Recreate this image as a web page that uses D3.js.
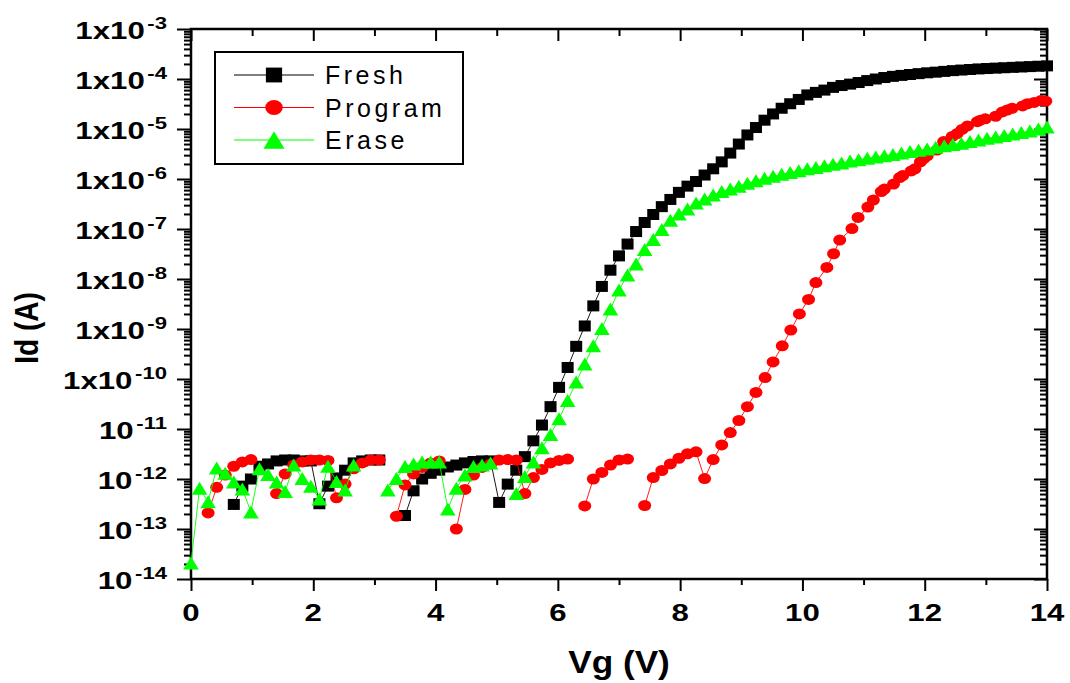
<!DOCTYPE html>
<html>
<head>
<meta charset="utf-8">
<script src="https://cdn.jsdelivr.net/npm/d3@7"></script>
<style>
  body { margin: 0; background: #fff; }
  text { font-family: "Liberation Sans", Arial, sans-serif; fill: #000; }
</style>
</head>
<body>
<script>
// Gate voltage sweep (V) used by Fresh and Erase
var vg = [0, 0.14, 0.28, 0.42, 0.56, 0.70, 0.84, 0.98, 1.12, 1.26, 1.40, 1.54, 1.68, 1.82, 1.96, 2.10, 2.24, 2.38, 2.52, 2.66,
    2.80, 2.94, 3.08, 3.22, 3.36, 3.50, 3.64, 3.78, 3.92, 4.06, 4.20, 4.34, 4.48, 4.62, 4.76, 4.90, 5.04, 5.18, 5.32, 5.46,
    5.60, 5.74, 5.88, 6.02, 6.16, 6.30, 6.44, 6.58, 6.72, 6.86, 7.00, 7.14, 7.28, 7.42, 7.56, 7.70, 7.84, 7.98, 8.12, 8.26,
    8.40, 8.54, 8.68, 8.82, 8.96, 9.10, 9.24, 9.38, 9.52, 9.66, 9.80, 9.94, 10.08, 10.22, 10.36, 10.50, 10.64, 10.78, 10.92, 11.06,
    11.20, 11.34, 11.48, 11.62, 11.76, 11.90, 12.04, 12.18, 12.32, 12.46, 12.60, 12.74, 12.88, 13.02, 13.16, 13.30, 13.44, 13.58, 13.72, 13.86,
    14.00];

// Drain current (A), null = point not plotted
var idFresh = [null, null, null, null, null, 3.1e-13, 7.2e-13, 1.0e-12, 1.8e-12, 2.0e-12,
    2.3e-12, 2.4e-12, 2.4e-12, 2.3e-12, 2.3e-12, 3.2e-13, 7.2e-13, 1.05e-12, 1.5e-12, 2.1e-12,
    2.3e-12, 2.4e-12, 2.4e-12, null, null, 1.86e-13, 5.8e-13, 1.0e-12, 1.3e-12, 1.5e-12,
    1.74e-12, 1.9e-12, 2.1e-12, 2.24e-12, 2.3e-12, 2.3e-12, 3.4e-13, 7.9e-13, 1.5e-12, 2.8e-12,
    5.8e-12, 1.2e-11, 2.8e-11, 6.8e-11, 1.7e-10, 4.5e-10, 1.15e-9, 2.9e-9, 7.1e-9, 1.5e-8,
    2.9e-8, 5.0e-8, 8.9e-8, 1.35e-7, 1.95e-7, 2.8e-7, 3.9e-7, 5.4e-7, 7.2e-7, 8.9e-7,
    1.2e-6, 1.6e-6, 2.2e-6, 3.3e-6, 5.0e-6, 7.6e-6, 1.07e-5, 1.5e-5, 2.0e-5, 2.6e-5,
    3.2e-5, 3.9e-5, 4.8e-5, 5.4e-5, 6.0e-5, 6.8e-5, 7.4e-5, 7.9e-5, 8.5e-5, 9.3e-5,
    1.0e-4, 1.07e-4, 1.13e-4, 1.18e-4, 1.23e-4, 1.28e-4, 1.33e-4, 1.37e-4, 1.42e-4, 1.47e-4,
    1.51e-4, 1.55e-4, 1.59e-4, 1.62e-4, 1.65e-4, 1.68e-4, 1.71e-4, 1.74e-4, 1.77e-4, 1.80e-4,
    1.83e-4];

var idErase = [2.1e-14, 6.5e-13, 3.5e-13, 1.66e-12, 1.3e-12, 8.7e-13, 6.3e-13, 2.2e-13, 1.6e-12, 1.23e-12,
    8.7e-13, 5.6e-13, 1.9e-12, 1.02e-12, 7.2e-13, 4.0e-13, 1.8e-12, 8.9e-13, 6.0e-13, 1.9e-12,
    null, null, null, 6.0e-13, 1.02e-12, 1.78e-12, 2.0e-12, 2.2e-12, 2.2e-12, 2.2e-12,
    2.5e-13, 6.5e-13, 1.2e-12, 1.78e-12, 1.9e-12, 2.1e-12, null, null, 5.1e-13, 1.12e-12,
    2.2e-12, 4.2e-12, 7.8e-12, 1.6e-11, 3.7e-11, 8.7e-11, 2.0e-10, 4.6e-10, 1.02e-9, 2.5e-9,
    6.0e-9, 1.2e-8, 2.0e-8, 3.9e-8, 6.2e-8, 9.8e-8, 1.5e-7, 2.0e-7, 2.5e-7, 3.3e-7,
    4.0e-7, 4.8e-7, 5.6e-7, 6.3e-7, 7.2e-7, 8.2e-7, 9.2e-7, 1.03e-6, 1.13e-6, 1.24e-6,
    1.35e-6, 1.47e-6, 1.6e-6, 1.7e-6, 1.85e-6, 1.98e-6, 2.1e-6, 2.28e-6, 2.44e-6, 2.6e-6,
    2.76e-6, 2.92e-6, 3.1e-6, 3.3e-6, 3.55e-6, 3.75e-6, 4.0e-6, 4.3e-6, 4.6e-6, 4.9e-6,
    5.2e-6, 5.6e-6, 6.0e-6, 6.5e-6, 6.9e-6, 7.4e-6, 7.9e-6, 8.5e-6, 9.1e-6, 1.0e-5,
    1.1e-5];

// Program has its own sweep points
var vgProgram = [0.28, 0.42, 0.56, 0.70, 0.84, 0.98, 1.12, 1.26, 1.40, 1.54, 1.68, 1.82, 1.96, 2.10, 2.24, 2.38, 2.52, 2.66,
    2.80, 2.94, 3.08, 3.22, 3.36, 3.50, 3.64, 3.78, 3.92, 4.06, 4.20, 4.34, 4.48, 4.62, 4.76, 4.90, 5.04, 5.18, 5.32, 5.46,
    5.60, 5.74, 5.88, 6.02, 6.16, 6.30, 6.44, 6.58, 6.72, 6.86, 7.00, 7.14, 7.28, 7.42, 7.56, 7.70, 7.84, 7.98, 8.12, 8.26,
    8.40, 8.54, 8.68, 8.82, 8.96, 9.10, 9.24, 9.39, 9.52, 9.67, 9.81, 9.95, 10.10, 10.22, 10.40, 10.51, 10.61, 10.81, 10.91,
    11.07, 11.16, 11.29, 11.34, 11.49, 11.59, 11.64, 11.78, 11.84, 11.93, 11.99, 12.04, 12.20, 12.31, 12.45, 12.53, 12.61,
    12.70, 12.86, 12.91, 12.99, 13.16, 13.27, 13.35, 13.43, 13.60, 13.68, 13.79, 13.90, 13.98];

var idProgram = [2.1e-13, 6.8e-13, 1.2e-12, 1.8e-12, 2.2e-12, 2.45e-12, null, null, 5.1e-13, 1.26e-12, 1.9e-12, 2.2e-12, 2.4e-12, 2.4e-12, 2.35e-12, 4.2e-13, 7.9e-13, 1.6e-12,
    2.1e-12, 2.4e-12, 2.4e-12, null, 1.8e-13, 7.6e-13, 1.26e-12, 1.7e-12, 2.1e-12, 2.3e-12, null, 1.0e-13, 6.2e-13, 1.2e-12, 1.7e-12, 2.0e-12, 2.4e-12, 2.45e-12, 2.4e-12, 5.1e-13,
    1.07e-12, 1.55e-12, 2.1e-12, 2.35e-12, 2.5e-12, null, 2.9e-13, 1.0e-12, 1.35e-12, 1.9e-12, 2.4e-12, 2.5e-12, null, 2.95e-13, 1.07e-12, 1.48e-12, 2.0e-12, 2.6e-12, 3.2e-12, 3.5e-12,
    1.02e-12, 2.45e-12, 4.8e-12, 8.5e-12, 1.48e-11, 2.8e-11, 5.4e-11, 1.07e-10, 2.2e-10, 4.6e-10, 9.5e-10, 2.0e-9, 3.9e-9, 8.5e-9, 1.7e-8, 3.2e-8, 6.0e-8, 1.02e-7, 1.7e-7,
    2.75e-7, 3.8e-7, 5.6e-7, 6.3e-7, 7.9e-7, 1.07e-6, 1.17e-6, 1.45e-6, 1.6e-6, 2.2e-6, 2.6e-6, 2.9e-6, 3.8e-6, 5.6e-6, 7.1e-6, 8.1e-6, 9.8e-6,
    1.15e-5, 1.4e-5, 1.5e-5, 1.6e-5, 1.8e-5, 2.2e-5, 2.4e-5, 2.6e-5, 2.9e-5, 3.2e-5, 3.4e-5, 3.7e-5, 3.6e-5];

var names = ["Fresh", "Program", "Erase"];
var colors = ["#000000", "#ff0000", "#00ff00"];

// Axis ticks and labels
var xMajor = [0, 2, 4, 6, 8, 10, 12, 14];
var xMinor = [1, 3, 5, 7, 9, 11, 13];
var yExp = [-3, -4, -5, -6, -7, -8, -9, -10, -11, -12, -13, -14];
var yBase = ["1x10", "1x10", "1x10", "1x10", "1x10", "1x10", "1x10", "1x10", "10", "10", "10", "10"];

// Set the dimensions and margins of the graph
var margin = { top: 29, right: 23, bottom: 104, left: 191 },
    width = 1070 - margin.left - margin.right,
    height = 683 - margin.top - margin.bottom;

var svg = d3.select("body")
    .append("svg")
    .attr("width", width + margin.left + margin.right)
    .attr("height", height + margin.top + margin.bottom)
    .append("g")
    .attr("transform", "translate(" + margin.left + "," + margin.top + ")");

var x = d3.scaleLinear().domain([0, 14]).range([0, width]);
var y = d3.scaleLog().domain([1e-14, 1e-3]).range([height, 0]);

var yMajor = yExp.map(function (e) { return Math.pow(10, e); });
var yMinor = [];
yExp.forEach(function (e) {
    if (e < -3) for (var k = 2; k <= 9; k++) yMinor.push(k * Math.pow(10, e));
});

// ticks only, labels drawn separately
function tickAxis(axis, tr) {
    var g = svg.append("g").attr("transform", tr).call(axis.tickFormat("").tickSizeOuter(0));
    g.select(".domain").remove();
    g.selectAll("line").attr("stroke", "#000").attr("stroke-width", 2);
}
tickAxis(d3.axisBottom(x).tickValues(xMajor).tickSize(12), "translate(0," + height + ")");
tickAxis(d3.axisBottom(x).tickValues(xMinor).tickSize(6), "translate(0," + height + ")");
tickAxis(d3.axisTop(x).tickValues(xMajor).tickSize(-12), "translate(0,0)");
tickAxis(d3.axisTop(x).tickValues(xMinor).tickSize(-7), "translate(0,0)");
tickAxis(d3.axisLeft(y).tickValues(yMajor).tickSize(14), "translate(0,0)");
tickAxis(d3.axisLeft(y).tickValues(yMinor).tickSize(7), "translate(0,0)");
tickAxis(d3.axisRight(y).tickValues(yMajor).tickSize(-13), "translate(" + width + ",0)");
tickAxis(d3.axisRight(y).tickValues(yMinor).tickSize(-7), "translate(" + width + ",0)");

// frame
svg.append("rect")
    .attr("width", width).attr("height", height)
    .attr("fill", "none").attr("stroke", "#000").attr("stroke-width", 2.5);

// X tick labels
svg.selectAll(".xlab")
    .data(xMajor)
    .enter().append("text")
    .attr("class", "xlab")
    .attr("transform", function (d) { return "translate(" + x(d) + "," + (height + 42) + ") scale(1.3,1)"; })
    .attr("text-anchor", "middle")
    .style("font-size", "24px").style("font-weight", "bold")
    .text(function (d) { return d; });

// Y tick labels
var ylab = svg.selectAll(".ylab")
    .data(yExp)
    .enter().append("text")
    .attr("class", "ylab")
    .attr("transform", function (d) { return "translate(-24," + (y(Math.pow(10, d)) + 10) + ") scale(1.3,1)"; })
    .attr("text-anchor", "end")
    .style("font-size", "24px").style("font-weight", "bold");
ylab.append("tspan").text(function (d, i) { return yBase[i]; });
ylab.append("tspan").attr("dx", 2).attr("dy", -10).style("font-size", "17px").text(function (d) { return "" + d; });

// Axis titles
svg.append("text")
    .attr("transform", "translate(" + (width / 2) + "," + (height + 94) + ") scale(1.1,1)")
    .attr("text-anchor", "middle")
    .style("font-size", "32px").style("font-weight", "bold")
    .text("Vg (V)");

svg.append("text")
    .attr("transform", "translate(-153," + (height / 2 + 24) + ") rotate(-90) scale(1,1.2)")
    .attr("text-anchor", "middle")
    .style("font-size", "28px").style("font-weight", "bold")
    .text("Id (A)");

// Series
function toPoints(xs, ys) {
    return xs.map(function (v, i) { return { vg: v, id: ys[i] }; });
}
var series = [
    { name: names[0], color: colors[0], shape: "square", pts: toPoints(vg, idFresh) },
    { name: names[1], color: colors[1], shape: "circle", pts: toPoints(vgProgram, idProgram) },
    { name: names[2], color: colors[2], shape: "triangle", pts: toPoints(vg, idErase) }
];

var line = d3.line()
    .defined(function (d) { return d.id != null; })
    .x(function (d) { return x(d.vg); })
    .y(function (d) { return y(d.id); });

function marker(g, shape, color, s) {
    if (shape === "square") {
        g.append("rect").attr("x", -6 * s).attr("y", -5.5 * s).attr("width", 12 * s).attr("height", 11 * s).attr("fill", color);
    } else if (shape === "circle") {
        g.append("ellipse").attr("rx", 6.5 * s).attr("ry", 5.5 * s).attr("fill", color);
    } else {
        g.append("path").attr("d", "M0," + (-6.5 * s) + "L" + (7.8 * s) + "," + (6.5 * s) + "L" + (-7.8 * s) + "," + (6.5 * s) + "Z").attr("fill", color);
    }
}

series.forEach(function (s) {
    var g = svg.append("g");
    g.append("path")
        .datum(s.pts)
        .attr("fill", "none")
        .attr("stroke", s.color)
        .attr("stroke-width", 0.9)
        .attr("d", line);
    g.selectAll(".pt")
        .data(s.pts.filter(function (d) { return d.id != null; }))
        .enter().append("g")
        .attr("transform", function (d) { return "translate(" + x(d.vg) + "," + y(d.id) + ")"; })
        .each(function () { marker(d3.select(this), s.shape, s.color, 1); });
});

// Legend
var legend = svg.append("g").attr("transform", "translate(24,23)");
legend.append("rect")
    .attr("width", 248).attr("height", 112)
    .attr("fill", "#fff").attr("stroke", "#000").attr("stroke-width", 2);

var rows = legend.selectAll(".legend")
    .data(series)
    .enter().append("g")
    .attr("class", "legend")
    .attr("transform", function (d, i) { return "translate(0," + (23 + i * 32.5) + ")"; });
rows.append("line")
    .attr("x1", 19).attr("x2", 99)
    .attr("stroke", function (d) { return d.color; }).attr("stroke-width", 1);
rows.append("g")
    .attr("transform", "translate(59,0)")
    .each(function (d) { marker(d3.select(this), d.shape, d.color, 1.35); });
rows.append("text")
    .attr("x", 110).attr("y", 9)
    .style("font-size", "25px").style("letter-spacing", "3.5px")
    .text(function (d) { return d.name; });
</script>
</body>
</html>
